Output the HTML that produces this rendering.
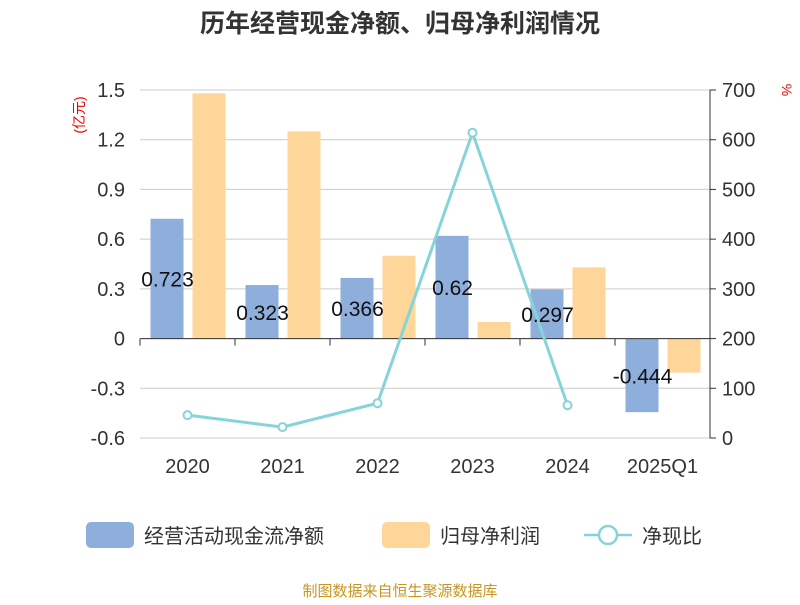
<!DOCTYPE html>
<html><head><meta charset="utf-8"><style>
body{margin:0;background:#fff;font-family:"Liberation Sans","Noto Sans CJK SC",sans-serif}
</style></head><body>
<svg width="800" height="600" xmlns="http://www.w3.org/2000/svg" font-family="Liberation Sans, Noto Sans CJK SC, sans-serif">
<text x="400" y="32" text-anchor="middle" font-size="25" font-weight="bold" fill="#333">历年经营现金净额、归母净利润情况</text>
<text transform="translate(84,115) rotate(-90)" text-anchor="middle" font-size="14" fill="#e00">(亿元)</text>
<text transform="translate(782,90) rotate(90)" text-anchor="middle" font-size="14" fill="#e00">%</text>
<g id="grid"></g><g id="bars"></g><g id="axes"></g><g id="line"></g><g id="labels"></g>
<g font-size="20" fill="#333">
<rect x="86" y="522" width="48" height="26" rx="5" fill="#8eaedb"/>
<text x="144" y="543">经营活动现金流净额</text>
<rect x="382" y="522" width="48" height="26" rx="5" fill="#ffd699"/>
<text x="440" y="543">归母净利润</text>
<line x1="584" y1="535" x2="632" y2="535" stroke="#86d4d8" stroke-width="2.5"/>
<circle cx="608" cy="535" r="9" fill="#fff" stroke="#86d4d8" stroke-width="2.5"/>
<text x="642" y="543">净现比</text>
</g>
<text x="400" y="596" text-anchor="middle" font-size="15" fill="#c8961e">制图数据来自恒生聚源数据库</text>
</svg>
<script>
const categories=["2020","2021","2022","2023","2024","2025Q1"];
const cashFlow=[0.723,0.323,0.366,0.62,0.297,-0.444];
const netProfit=[1.48,1.25,0.50,0.10,0.43,-0.205];
const ratio=[46,22,70,614,66,null];
const leftTicks=[-0.6,-0.3,0,0.3,0.6,0.9,1.2,1.5];
const rightTicks=[0,100,200,300,400,500,600,700];
const NS="http://www.w3.org/2000/svg";
const X0=140,X1=710,Y0=438,Y1=90;
const yL=v=>Y0-(v+0.6)/2.1*(Y0-Y1);
const yR=v=>Y0-v/700*(Y0-Y1);
const band=(X1-X0)/categories.length;
const xc=i=>X0+band*(i+0.5);
function mk(tag,attrs,parent){const e=document.createElementNS(NS,tag);for(const k in attrs)e.setAttribute(k,attrs[k]);document.getElementById(parent).appendChild(e);return e;}
leftTicks.forEach((t,i)=>{
 const y=yL(t);
 const g=mk("line",{x1:X0,x2:X1,y1:y,y2:y,stroke:"#ccc","stroke-width":1},"grid");
 
 
 const tx=mk("text",{x:X0-15,y:y+7,"text-anchor":"end","font-size":20,fill:"#333"},"axes");
 tx.textContent=(t===0?"0":t.toFixed(1));
 
 
});
rightTicks.forEach(t=>{
 const y=yR(t);
 mk("line",{x1:X1,x2:X1+6,y1:y,y2:y,stroke:"#333"},"axes");
 const tx=mk("text",{x:X1+12,y:y+7,"font-size":20,fill:"#333"},"axes");
 tx.textContent=t;
 
 
});
mk("line",{x1:X1,x2:X1,y1:Y1,y2:Y0,stroke:"#333"},"axes");
const z=yL(0);
mk("line",{x1:X0,x2:X1,y1:z,y2:z,stroke:"#333"},"axes");
for(let i=0;i<=categories.length;i++){mk("line",{x1:X0+band*i,x2:X0+band*i,y1:z,y2:z+7,stroke:"#333"},"axes");}
categories.forEach((c,i)=>{
 const t=mk("text",{x:xc(i),y:473,"text-anchor":"middle","font-size":20,fill:"#333"},"axes");
 t.textContent=c;
 
 
 const bw=33,cx=xc(i);
 const v=cashFlow[i],yv=yL(v);
 const b=mk("rect",{x:cx-37,y:Math.min(yv,z),width:bw,height:Math.abs(z-yv),fill:"#8eaedb"},"bars");
 
 
 const p=netProfit[i],yp=yL(p);
 const b2=mk("rect",{x:cx+5,y:Math.min(yp,z),width:bw,height:Math.abs(z-yp),fill:"#ffd699"},"bars");
 
 
 const l=mk("text",{x:cx-20,y:(yv+z)/2+8,"text-anchor":"middle","font-size":21,fill:"#111"},"labels");
 l.textContent=String(v);
 
 
});
const pts=ratio.map((v,i)=>v==null?null:[xc(i),yR(v)]).filter(p=>p);
const pl=mk("polyline",{points:pts.map(p=>p.join(",")).join(" "),fill:"none",stroke:"#86d4d8","stroke-width":3},"line");


pts.forEach(p=>{
 const c=mk("circle",{cx:p[0],cy:p[1],r:4,fill:"#fff",stroke:"#86d4d8","stroke-width":2},"line");
 
 
});
</script>
</body></html>
